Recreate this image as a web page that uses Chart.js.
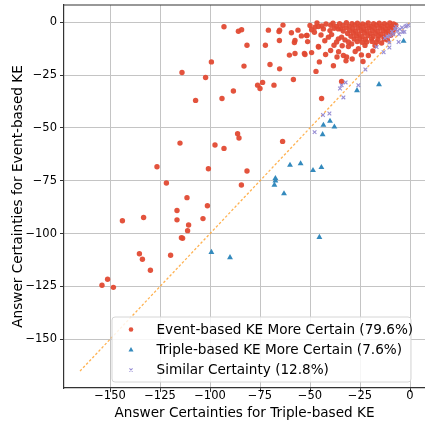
<!DOCTYPE html>
<html>
<head>
<meta charset="utf-8">
<script src="https://cdn.jsdelivr.net/npm/chart.js@4/dist/chart.umd.min.js"></script>
<style>
html,body{margin:0;padding:0;background:#fff;overflow:hidden;}
#wrap{width:425px;height:423px;position:relative;}
</style>
</head>
<body>
<div id="wrap"><canvas id="c" width="425" height="423"></canvas></div>
<script>
// ---- data ----
const seriesLabels = [
  'Event-based KE More Certain (79.6%)',
  'Triple-based KE More Certain (7.6%)',
  'Similar Certainty (12.8%)'
];
const tickValues = [-150, -125, -100, -75, -50, -25, 0];
const axisMin = -173;
const axisMaxX = 7.5;
const axisMaxY = 8.1;
const diagonal = [[-165, -165], [0, 0]];

const eventPoints = [
  [-93,-2.2],[-85.8,-4.3],[-84.2,-3.6],[-70.8,-3.8],[-65.5,-4.4],[-65.2,-3.8],[-63.5,-1.4],[-59.3,-5],
  [-56,-3.8],[-54.3,-6.5],[-51.5,-6.3],[-81.5,-10.9],[-72.3,-10.9],[-65.3,-8.7],[-57.5,-8.7],[-57.8,-9.6],
  [-51.2,-9.2],[-60.3,-15.6],[-57.5,-14.8],[-52.8,-14.8],[-52.5,-15.3],[-49.2,-14.4],[-45.7,-11.8],[-42.2,-15.3],
  [-39.7,-13.4],[-45.3,-18.8],[-47,-23.3],[-38.3,-20.6],[-35.7,-14],[-36.5,-16.5],[-33.3,-15.8],[-31.7,-16.5],
  [-32,-18.3],[-99.3,-18.8],[-114,-23.8],[-102.2,-26.2],[-83,-20.8],[-70,-20],[-65.2,-22.1],[-58.3,-27.1],
  [-76.2,-29.8],[-75,-31.4],[-73.7,-28.5],[-68,-29.8],[-88.3,-32.6],[-94,-36.1],[-107.2,-37],[-44.2,-36.1],
  [-34.2,-28.1],[-86.2,-52.8],[-85.5,-54.8],[-115,-57.2],[-97.5,-58.1],[-93,-59.7],[-63.7,-56.4],[-126.5,-68.4],
  [-100.8,-69.3],[-81.5,-70.4],[-121.8,-76.1],[-84.3,-77],[-111.5,-83],[-101.3,-86.8],[-116.5,-89.1],[-116.5,-93.5],
  [-103.5,-92.9],[-110.7,-95.9],[-111.2,-98.6],[-143.8,-93.9],[-133.2,-92.4],[-114.3,-101.9],[-113.7,-102.2],[-135.3,-109.5],
  [-133.8,-112.1],[-119.7,-110.2],[-129.8,-117.3],[-151.2,-121.6],[-154,-124.4],[-148.3,-125.4],
  [-50,-1.6],[-47.5,-2.4],[-45.8,-2.1],[-43.3,-3.2],[-49.2,-3.6],[-51.7,-6.3],[-45.8,-11.5],[-40.8,-7.1],
  [-39.2,-5.9],[-40,-4],[-36.7,-9.4],[-35.8,-7.9],[-34.2,-7.1],[-35.8,-3.2],[-30.8,-11.5],[-29.2,-10.3],
  [-30.8,-9.4],[-32.5,-8.4],[-25.8,-12.6],[-20.8,-15.8],[-22.5,-11],[-21.7,-9.4],[-17.5,-11],[-16.7,-9.4],
  [-14.2,-9.9],
  [-46.5,-0.4],[-42.0,-0.9],[-38.5,-0.5],[-35.2,-0.8],[-31.8,-0.3],[-29.0,-0.7],[-26.3,-0.5],[-23.7,-0.9],
  [-20.9,-0.4],[-18.2,-0.8],[-15.4,-0.5],[-12.8,-0.7],[-10.1,-0.4],[-8.2,-0.9],
  [-44.1,-1.8],[-39.6,-1.5],[-36.8,-2.0],[-33.5,-1.6],[-30.4,-1.9],[-27.6,-1.4],[-24.9,-1.8],[-22.1,-1.6],
  [-19.5,-2.0],[-16.8,-1.5],[-14.1,-1.9],[-11.5,-1.6],[-9.3,-2.1],[-7.1,-1.4],
  [-37.9,-2.9],[-34.6,-3.1],[-31.9,-2.7],[-28.7,-3.0],[-26.0,-2.8],[-23.2,-3.2],[-20.4,-2.7],[-17.6,-3.0],
  [-15.0,-2.8],[-12.3,-3.1],[-9.9,-2.9],[-7.8,-3.3],
  [-33.4,-4.2],[-30.1,-4.0],[-27.3,-4.3],[-24.4,-3.9],[-21.6,-4.2],[-18.9,-4.0],[-16.1,-4.4],[-13.4,-4.1],
  [-10.8,-4.3],[-8.6,-5.0],
  [-31.2,-5.4],[-28.3,-5.2],[-25.5,-5.6],[-22.8,-5.1],[-19.9,-5.5],[-17.3,-5.3],[-14.6,-5.7],[-12.0,-5.2],
  [-9.6,-6.2],
  [-29.5,-6.7],[-26.7,-6.5],[-23.9,-6.9],[-21.1,-6.4],[-18.4,-6.8],[-15.7,-6.6],[-13.1,-7.0],
  [-27.9,-8.0],[-25.1,-7.8],[-22.3,-8.2],[-19.2,-7.9],[-16.0,-8.1],[-12.9,-8.0],
  [-26.4,-9.2],[-24.0,-9.5],[-19.0,-9.1],
  [-47.8,-4.8],[-44.5,-6.1],[-42.6,-8.8],[-38.0,-10.9],[-33.9,-11.2],[-27.4,-13.9],[-24.3,-15.5],[-28.9,-17.4],
  [-23.5,-18.6],[-18.6,-13.6],[-11.3,-8.4]
];

const triplePoints = [
  [-3.2,-9],[-15.5,-29.5],[-26.5,-32.3],[-40,-46.8],[-43.3,-48.7],[-37.8,-49.5],[-43.7,-53.1],[-60,-67.6],
  [-54.7,-66.9],[-48.5,-70.1],[-44.3,-68.7],[-67.3,-73.9],[-67.3,-75],[-67.8,-77],[-63,-81.1],[-99.3,-108.8],
  [-90,-111.3],[-45.3,-101.7]
];

const similarPoints = [
  [-22.3,-22.4],[-16.7,-11.8],[-13.2,-14.2],[-10.3,-9.6],[-10.3,-12],[-5.7,-9.4],[-7.5,-3.3],[-6.2,-4.1],
  [-5,-3.3],[-3.7,-4.7],[-2.2,-2.1],[-2.8,-4.6],[-5.5,-5.7],[-10,-6.3],[-8.3,-5.7],[-11.3,-6.8],
  [-1.7,-1.7],[-32.2,-28.5],[-34.2,-29.8],[-35,-31.4],[-25.8,-29.8],[-33.3,-35.6],[-43.5,-43.9],[-40.3,-43.2],
  [-47.7,-52],[-9,-4.5],[-4,-2.5],[-7,-2.2],[-0.8,-1.5],[-12.5,-7.5]
];

// ---- styling ----
const FONT = "'DejaVu Sans', sans-serif";
const red = 'rgba(226,74,51,0.95)';
const blue = '#348ABD';
const purple = '#988ED5';
const toXY = arr => arr.map(p => ({x: p[0], y: p[1]}));
const fmt = v => (v < 0 ? '\u2212' + Math.abs(v) : String(v));

const styles = [
  {pointStyle: 'circle', radius: 2.7, bg: red, border: red, bw: 0},
  {pointStyle: 'triangle', radius: 3.4, bg: blue, border: blue, bw: 0},
  {pointStyle: 'crossRot', radius: 2.6, bg: purple, border: purple, bw: 1.1}
];
const pointSets = [eventPoints, triplePoints, similarPoints];

const datasets = pointSets.map((pts, i) => ({
  label: seriesLabels[i],
  data: toXY(pts),
  pointStyle: styles[i].pointStyle,
  pointRadius: styles[i].radius,
  pointHoverRadius: styles[i].radius,
  backgroundColor: styles[i].bg,
  borderColor: styles[i].border,
  pointBorderWidth: styles[i].bw,
  showLine: false,
  order: 2 - i
}));
datasets.push({
  label: 'diag',
  data: toXY(diagonal),
  showLine: true,
  pointRadius: 0,
  borderColor: 'rgba(255,165,50,0.85)',
  borderWidth: 1.3,
  borderDash: [2.5, 2],
  fill: false,
  order: 10
});

// fixed plot-area box (pixels) matching the reference layout
const AREA = {left: 64, top: 5, right: 425, bottom: 388};

const fixLayout = {
  id: 'fixLayout',
  afterLayout(chart) {
    const a = chart.chartArea;
    a.left = AREA.left; a.top = AREA.top; a.right = AREA.right; a.bottom = AREA.bottom;
    a.width = AREA.right - AREA.left; a.height = AREA.bottom - AREA.top;
    const xs = chart.scales.x, ys = chart.scales.y;
    xs.left = AREA.left; xs.right = AREA.right; xs.width = a.width;
    xs.top = AREA.bottom; xs.bottom = chart.height; xs.height = chart.height - AREA.bottom;
    ys.left = 0; ys.right = AREA.left; ys.width = AREA.left;
    ys.top = AREA.top; ys.bottom = AREA.bottom; ys.height = a.height;
    xs.configure(); ys.configure();
  }
};

const frameAndLegend = {
  id: 'frameAndLegend',
  afterDatasetsDraw(chart) {
    const {ctx, chartArea: a} = chart;
    ctx.save();
    ctx.strokeStyle = '#333';
    ctx.lineWidth = 1.2;
    ctx.beginPath();
    ctx.moveTo(a.left, a.top);
    ctx.lineTo(a.right, a.top);
    ctx.stroke();
    ctx.restore();
  },
  afterDraw(chart) {
    const {ctx} = chart;
    const bx = 112, by = 317, bw = 299, bh = 65, r = 3;
    ctx.save();
    ctx.beginPath();
    ctx.moveTo(bx + r, by);
    ctx.arcTo(bx + bw, by, bx + bw, by + bh, r);
    ctx.arcTo(bx + bw, by + bh, bx, by + bh, r);
    ctx.arcTo(bx, by + bh, bx, by, r);
    ctx.arcTo(bx, by, bx + bw, by, r);
    ctx.closePath();
    ctx.fillStyle = 'rgba(255,255,255,0.85)';
    ctx.fill();
    ctx.strokeStyle = '#d6d6d6';
    ctx.lineWidth = 1;
    ctx.stroke();
    const rows = [329.5, 350, 370];
    for (let i = 0; i < 3; i++) {
      const s = styles[i];
      ctx.fillStyle = s.bg;
      ctx.strokeStyle = s.border;
      ctx.lineWidth = s.bw;
      Chart.helpers.drawPoint(ctx, {
        pointStyle: s.pointStyle, radius: s.radius * 0.85, borderWidth: s.bw, rotation: 0
      }, 131, rows[i]);
      ctx.fillStyle = '#000';
      ctx.font = '13.6px ' + FONT;
      ctx.textBaseline = 'middle';
      ctx.textAlign = 'left';
      ctx.fillText(seriesLabels[i], 156.5, rows[i] + 0.5);
    }
    ctx.restore();
  }
};

const chart = new Chart(document.getElementById('c'), {
  type: 'scatter',
  data: {datasets},
  options: {
    responsive: false,
    animation: false,
    events: [],
    layout: {autoPadding: false, padding: {top: 5, left: 0, right: 0, bottom: 0}},
    plugins: {legend: {display: false}, tooltip: {enabled: false}},
    scales: {
      x: {
        type: 'linear', min: axisMin, max: axisMaxX,
        afterBuildTicks: s => { s.ticks = tickValues.map(v => ({value: v})); },
        afterFit: s => { s.height = 35; s.paddingLeft = 0; s.paddingRight = 0; },
        grid: {color: '#c4c4c4', lineWidth: 1, tickColor: '#333', tickLength: 4, tickWidth: 1},
        border: {color: '#333', width: 1.2},
        ticks: {callback: v => fmt(v), color: '#000', font: {family: FONT, size: 11.5}, padding: -3, maxRotation: 0, autoSkip: false},
        title: {display: true, text: 'Answer Certainties for Triple-based KE', color: '#000',
                font: {family: FONT, size: 13.6}, padding: {top: 0, bottom: 1}}
      },
      y: {
        type: 'linear', min: axisMin, max: axisMaxY,
        afterBuildTicks: s => { s.ticks = tickValues.map(v => ({value: v})); },
        afterFit: s => { s.width = 64; s.paddingTop = 0; s.paddingBottom = 0; },
        grid: {color: '#c4c4c4', lineWidth: 1, tickColor: '#333', tickLength: 4, tickWidth: 1},
        border: {color: '#333', width: 1.2},
        ticks: {callback: v => fmt(v), color: '#000', font: {family: FONT, size: 11.5}, padding: 3, autoSkip: false},
        title: {display: true, text: 'Answer Certainties for Event-based KE', color: '#000',
                font: {family: FONT, size: 13.6}, padding: {top: 10, bottom: 0}}
      }
    }
  },
  plugins: [fixLayout, frameAndLegend]
});
</script>
</body>
</html>
